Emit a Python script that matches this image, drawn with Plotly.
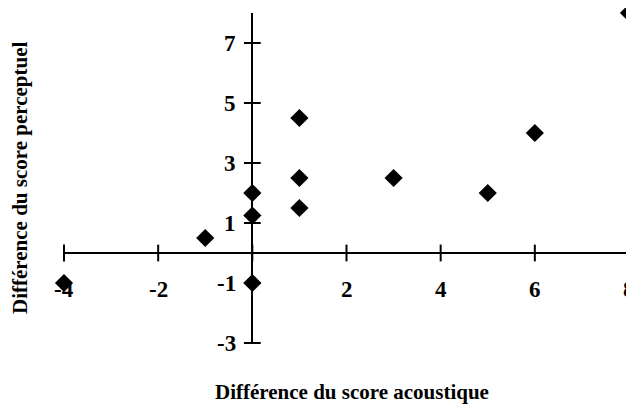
import plotly.graph_objects as go

# Data
acoustic = [-4, -1, 0, 0, 0, 1, 1, 1, 3, 5, 6, 8]
perceptual = [-1, 0.5, -1, 1.25, 2, 1.5, 2.5, 4.5, 2.5, 2, 4, 8]

x_ticks = [-4, -2, 0, 2, 4, 6, 8]
x_ticklabels = ["-4", "-2", "", "2", "4", "6", "8"]
y_ticks = [-3, -1, 1, 3, 5, 7]
y_ticklabels = ["-3", "-1", "1", "3", "5", "7"]

x_title = "Différence du score acoustique"
y_title = "Différence du score perceptuel"

FONT = "Liberation Serif, Times New Roman, serif"

fig = go.Figure()

# tick marks on the crossing axes
fig.add_trace(go.Scatter(
    x=x_ticks, y=[0] * len(x_ticks), mode="markers",
    marker=dict(symbol="line-ns", size=12, line=dict(width=2, color="black")),
    hoverinfo="skip", cliponaxis=False, showlegend=False))
fig.add_trace(go.Scatter(
    x=[0] * len(y_ticks), y=y_ticks, mode="markers",
    marker=dict(symbol="line-ew", size=12, line=dict(width=2, color="black")),
    hoverinfo="skip", cliponaxis=False, showlegend=False))

# data points
fig.add_trace(go.Scatter(
    x=acoustic, y=perceptual, mode="markers",
    marker=dict(symbol="diamond", size=14, color="black"),
    cliponaxis=False, showlegend=False))

annotations = []
for v, t in zip(x_ticks, x_ticklabels):
    if t:
        annotations.append(dict(x=v, y=0, xref="x", yref="y", text=f"<b>{t}</b>",
                                showarrow=False, yanchor="middle", yshift=-36,
                                font=dict(family=FONT, size=23, color="black")))
for v, t in zip(y_ticks, y_ticklabels):
    annotations.append(dict(x=0, y=v, xref="x", yref="y", text=f"<b>{t}</b>",
                            showarrow=False, xanchor="right", xshift=-14,
                            font=dict(family=FONT, size=23, color="black")))
annotations.append(dict(x=0.5, y=0, xref="paper", yref="paper", text=f"<b>{x_title}</b>",
                        showarrow=False, yshift=-49, xshift=5, yanchor="middle",
                        font=dict(family=FONT, size=21, color="black")))
annotations.append(dict(x=0, y=0.5, xref="paper", yref="paper", text=f"<b>{y_title}</b>",
                        showarrow=False, xshift=-58, textangle=-90,
                        font=dict(family=FONT, size=21, color="black")))

fig.update_layout(
    width=634, height=407,
    margin=dict(l=56, r=13, t=5, b=72),
    paper_bgcolor="white", plot_bgcolor="white",
    xaxis=dict(range=[-4, 8], showgrid=False, showticklabels=False, ticks="",
               zeroline=True, zerolinecolor="black", zerolinewidth=2, showline=False),
    yaxis=dict(range=[-3, 8], showgrid=False, showticklabels=False, ticks="",
               zeroline=True, zerolinecolor="black", zerolinewidth=2, showline=False),
    annotations=annotations,
    showlegend=False,
)

fig.write_html("out.html")
